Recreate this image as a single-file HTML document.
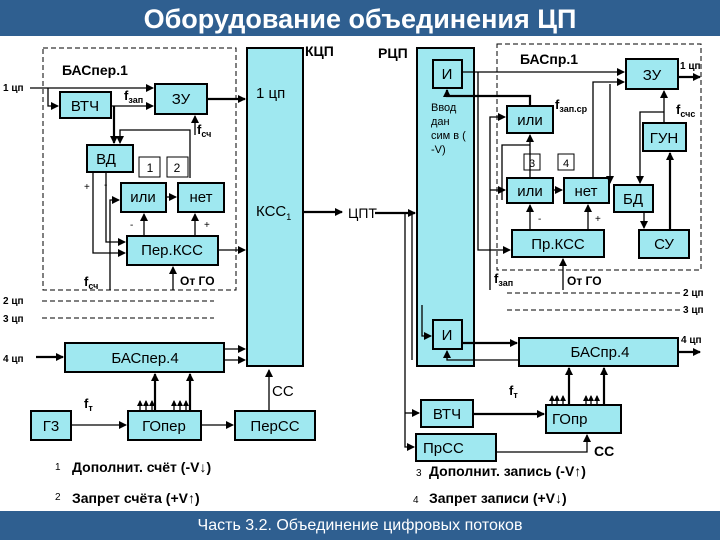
<!DOCTYPE html>
<html><head><meta charset="utf-8"><style>
html,body{margin:0;padding:0;background:#fff}
svg{display:block}
text{font-family:"Liberation Sans",sans-serif;fill:#000}
.b{fill:#9fe8f0;stroke:#000;stroke-width:2}
.w{fill:#fff;stroke:#000;stroke-width:1}
.l{stroke:#000;stroke-width:1.3;fill:none}
.t{stroke:#000;stroke-width:2.2;fill:none}
.d{stroke:#000;stroke-width:1;fill:none;stroke-dasharray:5,3}
.s{font-size:10px;font-weight:bold}
.m{font-size:15px}
</style></head><body>
<svg width="720" height="540" viewBox="0 0 720 540" xmlns="http://www.w3.org/2000/svg">
<defs><marker id="a" markerWidth="8" markerHeight="8" refX="7" refY="4" orient="auto" markerUnits="userSpaceOnUse"><path d="M0,0 L8,4 L0,8z" fill="#000"/></marker>
<marker id="sa" markerWidth="6" markerHeight="6" refX="5" refY="3" orient="auto" markerUnits="userSpaceOnUse"><path d="M0,0 L6,3 L0,6z" fill="#000"/></marker></defs>
<rect x="0" y="0" width="720" height="36" fill="#2f5f90"/>
<text x="360" y="28" text-anchor="middle" style="font-size:27px;font-weight:bold;fill:#fff">Оборудование объединения ЦП</text>
<rect x="0" y="511" width="720" height="29" fill="#2f5f90"/>
<text x="360" y="530" text-anchor="middle" style="font-size:16px;fill:#fff">Часть 3.2. Объединение цифровых потоков</text>

<rect class="d" x="43" y="48" width="193" height="242"/>
<rect class="d" x="497" y="44" width="204" height="226"/>
<rect class="b" x="247" y="48" width="56" height="318"/>
<rect class="b" x="417" y="48" width="57" height="318"/>
<text x="305" y="56" style="font-size:14px;font-weight:bold">КЦП</text>
<text x="378" y="58" style="font-size:14px;font-weight:bold">РЦП</text>
<text x="62" y="75" style="font-size:14px;font-weight:bold">БАСпер.1</text>
<text x="520" y="64" style="font-size:14px;font-weight:bold">БАСпр.1</text>
<text x="256" y="98" class="m">1 цп</text>
<text x="256" y="216" class="m">КСС<tspan style="font-size:9px" dy="4">1</tspan></text>
<text x="431" y="111" style="font-size:11px">Ввод</text>
<text x="431" y="125" style="font-size:11px">дан</text>
<text x="431" y="139" style="font-size:11px">сим в (</text>
<text x="431" y="153" style="font-size:11px">-V)</text>

<rect class="b" x="60" y="92" width="51" height="26"/><text x="85" y="111" class="m" text-anchor="middle">ВТЧ</text>
<rect class="b" x="155" y="84" width="52" height="30"/><text x="181" y="104" class="m" text-anchor="middle">ЗУ</text>
<rect class="b" x="87" y="145" width="46" height="27"/><text x="106" y="164" class="m" text-anchor="middle">ВД</text>
<rect class="w" x="139" y="157" width="21" height="20"/><text x="150" y="172" style="font-size:12px" text-anchor="middle">1</text>
<rect class="w" x="167" y="157" width="21" height="20"/><text x="177" y="172" style="font-size:12px" text-anchor="middle">2</text>
<rect class="b" x="121" y="183" width="45" height="29"/><text x="143" y="202" class="m" text-anchor="middle">или</text>
<rect class="b" x="178" y="183" width="46" height="29"/><text x="201" y="202" class="m" text-anchor="middle">нет</text>
<rect class="b" x="127" y="236" width="91" height="29"/><text x="172" y="255" class="m" text-anchor="middle">Пер.КСС</text>
<text x="3" y="91" class="s">1 цп</text>
<path class="l" d="M30,88 H153" marker-end="url(#a)"/>
<path class="l" d="M48,88 V106 H58" marker-end="url(#a)"/>
<path class="l" d="M111,106 H153" marker-end="url(#a)"/>
<text x="124" y="100" style="font-size:13px;font-weight:bold">f<tspan style="font-size:9px" dy="3">зап</tspan></text>
<path class="t" d="M207,99 H245" marker-end="url(#a)"/>
<path class="t" d="M114,106 V143" marker-end="url(#a)"/>
<path class="l" d="M195,135 V116" marker-end="url(#a)"/>
<path class="l" d="M190,178 V130 H120 V143" marker-end="url(#a)"/>
<text x="197" y="134" style="font-size:13px;font-weight:bold">f<tspan style="font-size:9px" dy="3">сч</tspan></text>
<path class="l" d="M93,172 V253 H125" marker-end="url(#a)"/>
<path class="l" d="M106,172 V242 H125" marker-end="url(#a)"/>
<text x="84" y="190" style="font-size:10px">+</text><text x="104" y="188" style="font-size:10px">-</text>
<path class="l" d="M110,290 V200 H119" marker-end="url(#a)"/>
<path class="l" d="M166,197 H176" marker-end="url(#a)"/>
<path class="l" d="M144,236 V214" marker-end="url(#a)"/>
<path class="l" d="M195,236 V214" marker-end="url(#a)"/>
<text x="130" y="228" style="font-size:10px">-</text><text x="204" y="228" style="font-size:10px">+</text>
<path class="l" d="M218,250 H245" marker-end="url(#a)"/>
<path class="l" d="M173,290 V267" marker-end="url(#a)"/>
<text x="180" y="285" style="font-size:12px;font-weight:bold">От ГО</text>
<text x="84" y="286" style="font-size:13px;font-weight:bold">f<tspan style="font-size:9px" dy="3">сч</tspan></text>
<text x="348" y="218" style="font-size:14px">ЦПТ</text>
<path class="t" d="M303,212 H342" marker-end="url(#a)"/>
<path class="t" d="M375,213 H415" marker-end="url(#a)"/>

<rect class="b" x="433" y="60" width="29" height="28"/><text x="447" y="79" class="m" text-anchor="middle">И</text>
<rect class="b" x="626" y="59" width="52" height="30"/><text x="652" y="80" class="m" text-anchor="middle">ЗУ</text>
<rect class="b" x="507" y="106" width="46" height="27"/><text x="530" y="125" class="m" text-anchor="middle">или</text>
<rect class="b" x="643" y="123" width="43" height="28"/><text x="664" y="143" class="m" text-anchor="middle">ГУН</text>
<rect class="w" x="524" y="154" width="16" height="16"/><text x="532" y="167" style="font-size:11px" text-anchor="middle">3</text>
<rect class="w" x="558" y="154" width="16" height="16"/><text x="566" y="167" style="font-size:11px" text-anchor="middle">4</text>
<rect class="b" x="507" y="178" width="46" height="25"/><text x="530" y="196" class="m" text-anchor="middle">или</text>
<rect class="b" x="564" y="178" width="45" height="25"/><text x="586" y="196" class="m" text-anchor="middle">нет</text>
<rect class="b" x="614" y="185" width="39" height="27"/><text x="633" y="204" class="m" text-anchor="middle">БД</text>
<rect class="b" x="512" y="230" width="92" height="27"/><text x="558" y="249" class="m" text-anchor="middle">Пр.КСС</text>
<rect class="b" x="639" y="230" width="50" height="28"/><text x="664" y="249" class="m" text-anchor="middle">СУ</text>
<text x="680" y="69" class="s">1 цп</text>
<path class="l" d="M462,72 H624" marker-end="url(#a)"/>
<path class="t" d="M678,77 H700" marker-end="url(#a)"/>
<path class="l" d="M478,72 V250 H510" marker-end="url(#a)"/>
<path class="t" d="M530,106 V96 H447 V90" marker-end="url(#a)"/>
<path class="l" d="M490,290 V117 H505" marker-end="url(#a)"/>
<path class="l" d="M490,190 H505" marker-end="url(#a)"/>
<path class="l" d="M530,178 V135" marker-end="url(#a)"/>
<path class="l" d="M502,200 V145 H530"/>
<path class="l" d="M553,190 H562" marker-end="url(#a)"/>
<path class="l" d="M530,230 V205" marker-end="url(#a)"/>
<path class="l" d="M588,230 V205" marker-end="url(#a)"/>
<text x="538" y="222" style="font-size:10px">-</text><text x="595" y="222" style="font-size:10px">+</text>
<path class="l" d="M593,178 V82 H624" marker-end="url(#a)"/>
<path class="l" d="M610,84 V183" marker-end="url(#a)"/>
<path class="l" d="M664,123 V91" marker-end="url(#a)"/>
<path class="l" d="M664,112 H640 V183" marker-end="url(#a)"/>
<path class="t" d="M670,230 V153" marker-end="url(#a)"/>
<path class="l" d="M644,212 V228" marker-end="url(#a)"/>
<text x="555" y="109" style="font-size:13px;font-weight:bold">f<tspan style="font-size:9px" dy="3">зап.ср</tspan></text>
<text x="676" y="114" style="font-size:13px;font-weight:bold">f<tspan style="font-size:9px" dy="3">счс</tspan></text>
<path class="l" d="M563,290 V259" marker-end="url(#a)"/>
<text x="567" y="285" style="font-size:12px;font-weight:bold">От ГО</text>
<text x="494" y="283" style="font-size:13px;font-weight:bold">f<tspan style="font-size:9px" dy="3">зап</tspan></text>
<path class="l" d="M405,212 V447 H414" marker-end="url(#a)"/>
<path class="l" d="M405,413 H419" marker-end="url(#a)"/>
<path class="l" d="M412,212 V360"/>

<text x="3" y="304" class="s">2 цп</text><text x="3" y="322" class="s">3 цп</text>
<path class="d" d="M42,301 H214 M42,318 H214"/>
<path class="d" d="M507,293 H680 M507,310 H680"/>
<text x="683" y="296" class="s">2 цп</text><text x="683" y="313" class="s">3 цп</text>

<rect class="b" x="65" y="343" width="159" height="29"/><text x="145" y="363" class="m" text-anchor="middle">БАСпер.4</text>
<text x="3" y="362" class="s">4 цп</text>
<path class="t" d="M36,357 H63" marker-end="url(#a)"/>
<path class="l" d="M224,349 H245" marker-end="url(#a)"/>
<path class="l" d="M224,360 H245" marker-end="url(#a)"/>
<rect class="b" x="31" y="411" width="40" height="29"/><text x="51" y="431" class="m" text-anchor="middle">Г3</text>
<rect class="b" x="128" y="411" width="73" height="29"/><text x="164" y="431" class="m" text-anchor="middle">ГОпер</text>
<rect class="b" x="235" y="411" width="80" height="29"/><text x="275" y="431" class="m" text-anchor="middle">ПерСС</text>
<path class="l" d="M71,425 H126" marker-end="url(#a)"/>
<path class="l" d="M201,425 H233" marker-end="url(#a)"/>
<path class="l" d="M269,411 V370" marker-end="url(#a)"/>
<text x="272" y="396" style="font-size:15px">СС</text>
<text x="84" y="408" style="font-size:13px;font-weight:bold">f<tspan style="font-size:9px" dy="3">т</tspan></text>
<path class="t" d="M155,411 V374" marker-end="url(#a)"/>
<path class="t" d="M190,411 V374" marker-end="url(#a)"/>
<path class="l" d="M140,411 V401" marker-end="url(#sa)"/><path class="l" d="M146,411 V401" marker-end="url(#sa)"/><path class="l" d="M152,411 V401" marker-end="url(#sa)"/>
<path class="l" d="M174,411 V401" marker-end="url(#sa)"/><path class="l" d="M180,411 V401" marker-end="url(#sa)"/><path class="l" d="M186,411 V401" marker-end="url(#sa)"/>

<rect class="b" x="433" y="320" width="29" height="29"/><text x="447" y="340" class="m" text-anchor="middle">И</text>
<path class="l" d="M422,305 V336 H431" marker-end="url(#a)"/>
<path class="t" d="M462,343 H517" marker-end="url(#a)"/>
<path class="l" d="M519,360 H447 V351" marker-end="url(#a)"/>
<rect class="b" x="519" y="338" width="159" height="28"/><text x="600" y="357" class="m" text-anchor="middle">БАСпр.4</text>
<text x="681" y="343" class="s">4 цп</text>
<path class="t" d="M678,352 H700" marker-end="url(#a)"/>
<rect class="b" x="421" y="400" width="52" height="27"/><text x="447" y="419" class="m" text-anchor="middle">ВТЧ</text>
<rect class="b" x="416" y="434" width="80" height="27"/><text x="423" y="453" class="m">ПрСС</text>
<rect class="b" x="546" y="405" width="75" height="28"/><text x="552" y="424" class="m">ГОпр</text>
<path class="t" d="M473,414 H544" marker-end="url(#a)"/>
<path class="l" d="M496,452 H587 V435" marker-end="url(#a)"/>
<text x="594" y="456" style="font-size:14px;font-weight:bold">СС</text>
<text x="509" y="395" style="font-size:13px;font-weight:bold">f<tspan style="font-size:9px" dy="3">т</tspan></text>
<path class="t" d="M569,405 V368" marker-end="url(#a)"/>
<path class="t" d="M604,405 V368" marker-end="url(#a)"/>
<path class="l" d="M552,405 V396" marker-end="url(#sa)"/><path class="l" d="M557,405 V396" marker-end="url(#sa)"/><path class="l" d="M563,405 V396" marker-end="url(#sa)"/>
<path class="l" d="M586,405 V396" marker-end="url(#sa)"/><path class="l" d="M591,405 V396" marker-end="url(#sa)"/><path class="l" d="M597,405 V396" marker-end="url(#sa)"/>

<text x="55" y="470" style="font-size:10px">1</text>
<text x="72" y="472" style="font-size:14px;font-weight:bold">Дополнит. счёт  (-V↓)</text>
<text x="55" y="500" style="font-size:10px">2</text>
<text x="72" y="503" style="font-size:14px;font-weight:bold">Запрет счёта  (+V↑)</text>
<text x="416" y="476" style="font-size:10px">3</text>
<text x="429" y="476" style="font-size:14px;font-weight:bold">Дополнит. запись (-V↑)</text>
<text x="413" y="503" style="font-size:10px">4</text>
<text x="429" y="503" style="font-size:14px;font-weight:bold">Запрет записи (+V↓)</text>
</svg>
</body></html>
